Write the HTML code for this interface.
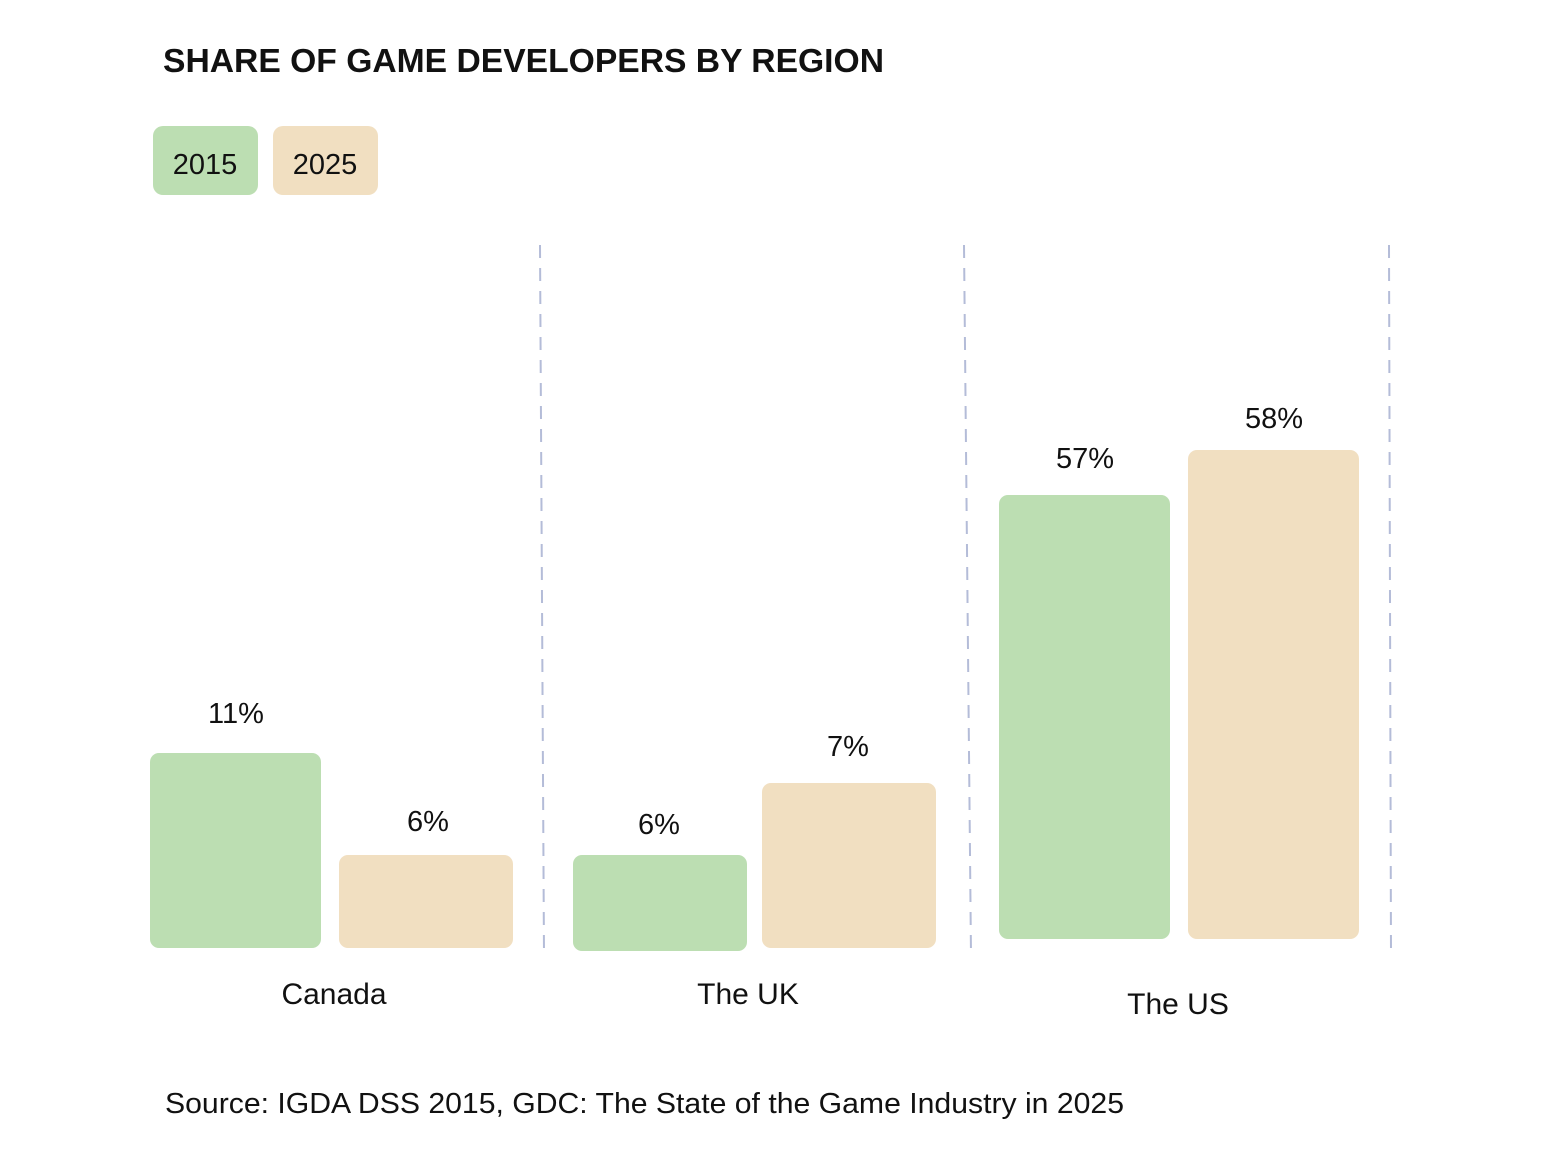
<!DOCTYPE html>
<html><head><style>
body{margin:0;background:#fff;}
svg text{font-family:"Liberation Sans",sans-serif;fill:#111;}
</style></head><body>
<svg width="1543" height="1157" xmlns="http://www.w3.org/2000/svg">
<text x="163" y="72" font-size="33" font-weight="bold" textLength="721" lengthAdjust="spacingAndGlyphs">SHARE OF GAME DEVELOPERS BY REGION</text>
<rect x="153" y="126" width="105" height="69" rx="10" fill="#bcdeb2"/>
<rect x="273" y="126" width="105" height="69" rx="10" fill="#f1dfc1"/>
<text x="205" y="174" font-size="29" text-anchor="middle">2015</text>
<text x="325" y="174" font-size="29" text-anchor="middle">2025</text>
<g stroke="#b4bcd8" stroke-width="2" stroke-dasharray="13,10">
<line x1="540" y1="245" x2="544" y2="955"/>
<line x1="964" y1="245" x2="971" y2="955"/>
<line x1="1389" y1="245" x2="1391" y2="955"/>
</g>
<rect x="150" y="753" width="171" height="195" rx="9" fill="#bcdeb2"/>
<rect x="339" y="855" width="174" height="93" rx="9" fill="#f1dfc1"/>
<rect x="573" y="855" width="174" height="96" rx="9" fill="#bcdeb2"/>
<rect x="762" y="783" width="174" height="165" rx="9" fill="#f1dfc1"/>
<rect x="999" y="495" width="171" height="444" rx="9" fill="#bcdeb2"/>
<rect x="1188" y="450" width="171" height="489" rx="9" fill="#f1dfc1"/>
<g font-size="29" text-anchor="middle">
<text x="236" y="723">11%</text>
<text x="428" y="831">6%</text>
<text x="659" y="834">6%</text>
<text x="848" y="756">7%</text>
<text x="1085" y="468">57%</text>
<text x="1274" y="428">58%</text>
</g>
<g font-size="30" text-anchor="middle">
<text x="334" y="1004">Canada</text>
<text x="748" y="1004">The UK</text>
<text x="1178" y="1014">The US</text>
</g>
<text x="165" y="1113" font-size="28.5" textLength="959" lengthAdjust="spacingAndGlyphs">Source: IGDA DSS 2015, GDC: The State of the Game Industry in 2025</text>
</svg>
</body></html>
